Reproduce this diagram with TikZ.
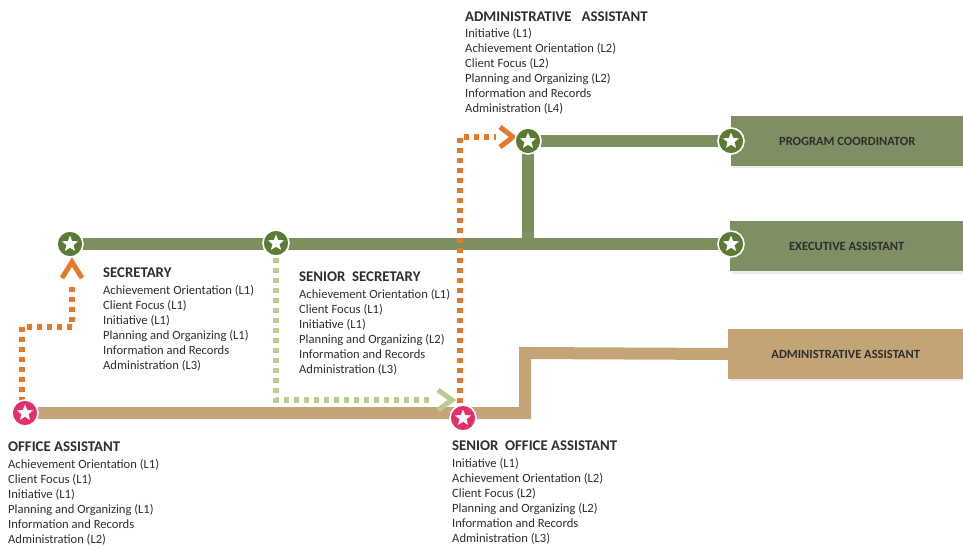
\documentclass[tikz,border=0pt]{standalone}
\usepackage{fontspec}
\setmainfont{Carlito}
\usetikzlibrary{arrows.meta,shapes.geometric,calc}
\definecolor{olive}{HTML}{7D8F5F}
\definecolor{boxgreen}{HTML}{7E8F63}
\definecolor{tan}{HTML}{C4A477}
\definecolor{starg}{HTML}{5B7A34}
\definecolor{starp}{HTML}{E3306C}
\definecolor{orng}{HTML}{E5782A}
\definecolor{lgreen}{HTML}{B8CC90}
\definecolor{txt}{HTML}{2E2E2E}
\tikzset{
  track/.style={line width=12pt},
  greentrack/.style={track,olive},
  tantrack/.style={track,tan},
  starcirc/.style={circle,minimum size=26pt,inner sep=0pt,fill=#1,draw=white,line width=1.6pt,
    path picture={\node[star,star points=5,star point ratio=2.3,fill=white,minimum size=17pt,inner sep=0pt] at (path picture bounding box.center) {};}},
  dotpath/.style={line width=5.5pt,dash pattern=on 5pt off 5pt,#1},
  chev/.style={line width=5pt,line join=miter,#1},
  jobbox/.style={draw=none,fill=#1,minimum height=50pt,anchor=west,font=\bfseries\fontsize{12.5}{14}\selectfont,text=txt},
  info/.style={anchor=north west,align=left,inner sep=0pt,font=\fontsize{12.6}{15}\selectfont,text=txt},
}
\newcommand{\hd}[1]{{\bfseries\fontsize{14.8}{15}\selectfont #1}}
\begin{document}
\begin{tikzpicture}[x=1pt,y=-1pt]
\useasboundingbox (0,0) rectangle (963,547);
% boxes
\fill[black!8] (733,118) rectangle (965,168);
\node[jobbox=boxgreen,minimum width=232pt] (pc) at (731,141) {PROGRAM COORDINATOR};
\fill[black!8] (732,224) rectangle (965,274);
\node[jobbox=boxgreen,minimum width=233pt] (ea) at (730,246) {EXECUTIVE ASSISTANT};
\fill[black!8] (730,331) rectangle (965,381);
\node[jobbox=tan,minimum width=235pt] (aa2) at (728,354) {ADMINISTRATIVE ASSISTANT};
% coordinates
\coordinate (oa) at (25,413);
\coordinate (soa) at (463,418);
\coordinate (sec) at (70,244);
\coordinate (ssec) at (276,243);
\coordinate (aa) at (528,141);
\coordinate (pcs) at (731,141);
\coordinate (eas) at (731,244);
% tracks
\draw[tantrack] (oa) -- (525,413) -- (525,353) -- (aa2.west);
\draw[greentrack] (sec) -- (eas);
\draw[greentrack] (528,244) -- (aa) -- (pcs);
% dotted paths
\draw[dotpath=orng] (22,402) -- (22,327) -- (72,327) -- (72,287);
\coordinate (t1) at (72,262);
\draw[chev=orng] (62,278) -- (t1) -- (82,278);
\draw[dotpath=orng] (460,403) -- (460,137) -- (496,137);
\coordinate (t2) at (513,137);
\draw[chev=orng] (500,127) -- (t2) -- (500,147);
\draw[dotpath=lgreen] (276,258) -- (276,400) -- (432,400);
\coordinate (t3) at (452,400);
\draw[chev=lgreen] (438,390) -- (t3) -- (438,410);
% stars
\node[starcirc=starp] (n-oa) at (oa) {};
\node[starcirc=starp] (n-soa) at (soa) {};
\node[starcirc=starg] (n-sec) at (sec) {};
\node[starcirc=starg] (n-ssec) at (ssec) {};
\node[starcirc=starg] (n-aa) at (aa) {};
\node[starcirc=starg] (n-pc) at (pcs) {};
\node[starcirc=starg] (n-ea) at (eas) {};
% texts
\node[info] (txt-sec) at (103,268) {\hd{SECRETARY}\\[2pt]
Achievement Orientation (L1)\\Client Focus (L1)\\Initiative (L1)\\Planning and Organizing (L1)\\Information and Records\\Administration (L3)};
\node[info] (txt-ssec) at (299,272) {\hd{SENIOR\ \ SECRETARY}\\[2pt]
Achievement Orientation (L1)\\Client Focus (L1)\\Initiative (L1)\\Planning and Organizing (L2)\\Information and Records\\Administration (L3)};
\node[info] (txt-aa) at (465,12) {\hd{ADMINISTRATIVE\ \ \ ASSISTANT}\\[1pt]
Initiative (L1)\\Achievement Orientation (L2)\\Client Focus (L2)\\Planning and Organizing (L2)\\Information and Records\\Administration (L4)};
\node[info] (txt-oa) at (8,442) {\hd{OFFICE ASSISTANT}\\[1.5pt]
Achievement Orientation (L1)\\Client Focus (L1)\\Initiative (L1)\\Planning and Organizing (L1)\\Information and Records\\Administration (L2)};
\node[info] (txt-soa) at (452,441) {\hd{SENIOR\ \ OFFICE ASSISTANT}\\[1.5pt]
Initiative (L1)\\Achievement Orientation (L2)\\Client Focus (L2)\\Planning and Organizing (L2)\\Information and Records\\Administration (L3)};
\end{tikzpicture}
\end{document}
